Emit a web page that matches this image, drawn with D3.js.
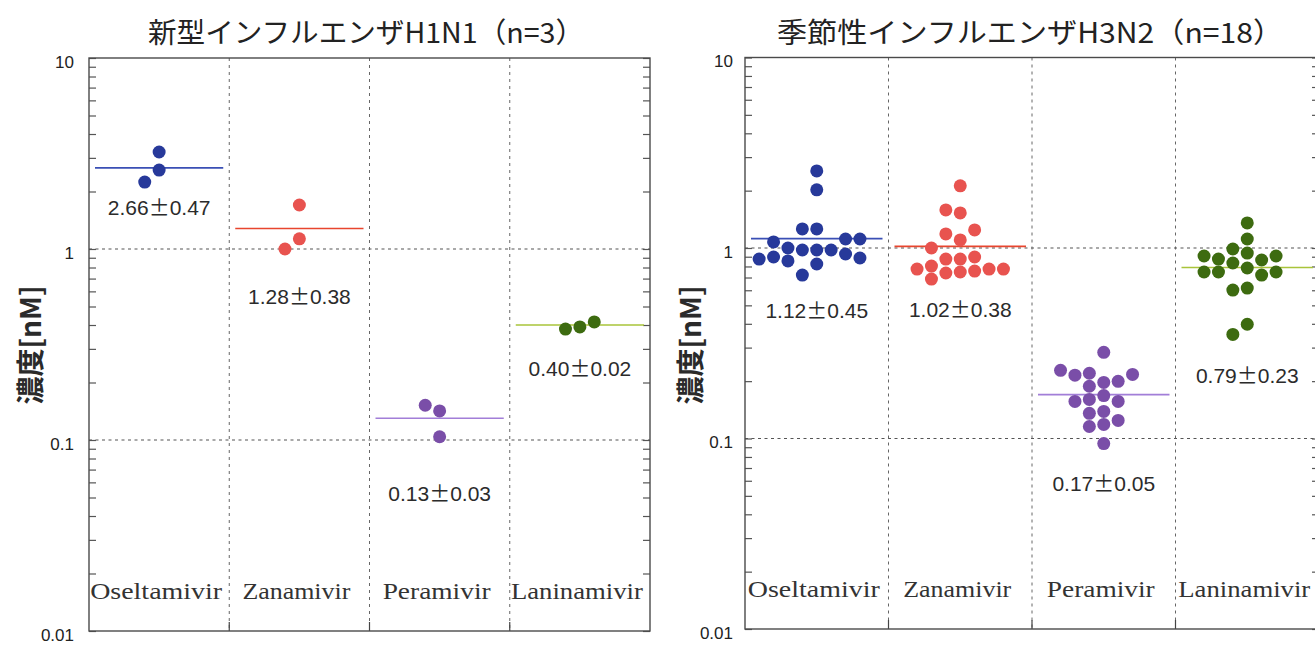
<!DOCTYPE html>
<html>
<head>
<meta charset="utf-8">
<script src="https://cdn.jsdelivr.net/npm/d3@7"></script>
<style>
  body { margin: 0; background: #ffffff; }
  svg { display: block; }
</style>
</head>
<body>
<svg id="chart" width="1315" height="646"></svg>
<script>
// ---- data -------------------------------------------------------------
const drugs = ["Oseltamivir", "Zanamivir", "Peramivir", "Laninamivir"];
const yTickValues = [0.01, 0.1, 1, 10];
const yTickLabels = ["0.01", "0.1", "1", "10"];
const axisTitle = "濃度[nM]";

// 新型インフルエンザ H1N1 (n=3), IC50 in nM
const h1n1Title = "新型インフルエンザH1N1（n=3）";
const h1n1Oseltamivir = [3.22, 2.59, 2.24];
const h1n1Zanamivir = [1.70, 1.13, 1.00];
const h1n1Peramivir = [0.152, 0.142, 0.104];
const h1n1Laninamivir = [0.391, 0.381, 0.415];
const h1n1Mean = [2.66, 1.28, 0.13, 0.40];
const h1n1SD = [0.47, 0.38, 0.03, 0.02];

// 季節性インフルエンザ H3N2 (n=18), IC50 in nM
const h3n2Title = "季節性インフルエンザH3N2（n=18）";
const h3n2Oseltamivir = [2.54, 2.02, 1.26, 1.26, 1.115, 1.076, 1.115, 1.00, 0.976, 0.930,
                         0.976, 0.976, 0.897, 0.875, 0.824, 0.855, 0.886, 0.721];
const h3n2Zanamivir = [2.12, 1.585, 1.528, 1.185, 1.244, 1.102, 1.00, 0.897, 0.875, 0.875,
                       0.804, 0.775, 0.748, 0.739, 0.757, 0.775, 0.775, 0.687];
const h3n2Peramivir = [0.2835, 0.228, 0.217, 0.215, 0.220, 0.1995, 0.197, 0.188, 0.168, 0.1566,
                       0.1566, 0.1604, 0.1387, 0.1355, 0.1156, 0.1185, 0.1244, 0.0941];
const h3n2Laninamivir = [1.354, 1.115, 0.988, 0.908, 0.908, 0.941, 0.875, 0.865, 0.834, 0.785,
                         0.748, 0.748, 0.748, 0.721, 0.601, 0.616, 0.398, 0.352];
const h3n2Mean = [1.12, 1.02, 0.17, 0.79];
const h3n2SD = [0.45, 0.38, 0.05, 0.23];

// ---- layout & style ---------------------------------------------------
const dotColors  = ["#27399a", "#e8534f", "#7a4ea8", "#3d6b10"];
const lineColors = ["#3a4fb5", "#e8452e", "#a27ed8", "#a9c43a"];
const dotRadius = 6.5;
const laneStep = 14.4;
const dodgeGap = 12.5;

const panels = [
  {
    title: h1n1Title, titleX: 366, titleLen: 436,
    x0: 89, x1: 650, yTop: 58, yBottom: 631,
    labelX: 74, axisTitleX: 41,
    series: [h1n1Oseltamivir, h1n1Zanamivir, h1n1Peramivir, h1n1Laninamivir],
    mean: h1n1Mean, sd: h1n1SD,
    statDy: [47, 75, 83, 51]
  },
  {
    title: h3n2Title, titleX: 1030, titleLen: 506,
    x0: 745, x1: 1319, yTop: 57.5, yBottom: 629,
    labelX: 733, axisTitleX: 701,
    series: [h3n2Oseltamivir, h3n2Zanamivir, h3n2Peramivir, h3n2Laninamivir],
    mean: h3n2Mean, sd: h3n2SD,
    statDy: [79, 71, 96, 115]
  }
];

const svg = d3.select("#chart");

// Greedy dot-plot dodge: points nearest the median are placed first, each
// one goes to the innermost lane where it does not sit on an earlier point.
function dodgeLanes(values, y, gap) {
  const ys = values.map(v => y(v));
  const med = d3.median(ys);
  const order = d3.range(values.length)
    .sort((a, b) => Math.abs(ys[a] - med) - Math.abs(ys[b] - med) || a - b);
  const occupied = new Map();
  const lanes = new Array(values.length);
  for (const i of order) {
    for (let k = 0; ; k++) {
      const lane = k === 0 ? 0 : (k % 2 ? -(k + 1) / 2 : k / 2);
      const list = occupied.get(lane) || [];
      if (list.every(py => Math.abs(py - ys[i]) >= gap)) {
        list.push(ys[i]);
        occupied.set(lane, list);
        lanes[i] = lane;
        break;
      }
    }
  }
  return lanes;
}

panels.forEach(p => {
  const g = svg.append("g");
  const y = d3.scaleLog().domain([0.01, 10]).range([p.yBottom, p.yTop]);
  const x = d3.scaleBand().domain(drugs).range([p.x0, p.x1]).paddingInner(0).paddingOuter(0);
  const bw = x.bandwidth();
  const lane = d3.scaleLinear().domain([0, 1]).range([0, laneStep]);

  // horizontal dotted grid at each inner decade
  g.append("g").selectAll("line")
    .data(yTickValues.filter(v => v > 0.01 && v < 10))
    .join("line")
    .attr("x1", p.x0).attr("x2", p.x1)
    .attr("y1", d => y(d)).attr("y2", d => y(d))
    .attr("stroke", "#555").attr("stroke-width", 1.1)
    .attr("stroke-dasharray", "3,3.5");

  // vertical dotted separators between drugs
  g.append("g").selectAll("line")
    .data(drugs.slice(1))
    .join("line")
    .attr("x1", d => x(d)).attr("x2", d => x(d))
    .attr("y1", p.yTop).attr("y2", p.yBottom)
    .attr("stroke", "#666").attr("stroke-width", 1)
    .attr("stroke-dasharray", "3,4");

  // short solid ticks at the foot of each separator
  g.append("g").selectAll("line")
    .data(drugs.slice(1))
    .join("line")
    .attr("x1", d => x(d)).attr("x2", d => x(d))
    .attr("y1", p.yBottom - 9).attr("y2", p.yBottom)
    .attr("stroke", "#444").attr("stroke-width", 1.2);

  // log ticks drawn inward on both vertical edges
  const tickVals = y.ticks();
  const leftTicks = g.append("g")
    .attr("transform", `translate(${p.x0},0)`)
    .call(d3.axisRight(y).tickValues(tickVals).tickSize(7).tickSizeOuter(0).tickFormat(""));
  const rightTicks = g.append("g")
    .attr("transform", `translate(${p.x1},0)`)
    .call(d3.axisLeft(y).tickValues(tickVals).tickSize(7).tickSizeOuter(0).tickFormat(""));
  [leftTicks, rightTicks].forEach(a => {
    a.select(".domain").remove();
    a.selectAll(".tick line").attr("stroke", "#555").attr("stroke-width", 1.2);
  });

  // decade labels
  const labelAxis = g.append("g")
    .attr("transform", `translate(${p.labelX},0)`)
    .attr("font-size", 17)
    .call(d3.axisLeft(y).tickValues(yTickValues).tickSize(0).tickPadding(0)
      .tickFormat((d, i) => yTickLabels[i]));
  labelAxis.select(".domain").remove();
  labelAxis.attr("font-size", 17).attr("font-family", "'Liberation Sans', Arial, sans-serif");
  labelAxis.selectAll(".tick text")
    .style("font-size", "17px")
    .style("font-family", "'Liberation Sans', Arial, sans-serif")
    .attr("fill", "#222")
    .attr("dy", "0.55em");

  // frame
  g.append("rect")
    .attr("x", p.x0).attr("y", p.yTop)
    .attr("width", p.x1 - p.x0).attr("height", p.yBottom - p.yTop)
    .attr("fill", "none").attr("stroke", "#4a4a4a").attr("stroke-width", 1.4);

  // drug names inside the plot, near the bottom
  g.append("g").selectAll("text")
    .data(drugs)
    .join("text")
    .attr("x", d => x(d) + bw / 2 - 3)
    .attr("y", p.yBottom - 32)
    .attr("text-anchor", "middle")
    .attr("font-family", "'Liberation Serif', 'DejaVu Serif', serif")
    .attr("font-size", 23)
    .attr("fill", "#333")
    .attr("textLength", d => d.length * 12)
    .attr("lengthAdjust", "spacingAndGlyphs")
    .text(d => d);

  // mean lines
  g.append("g").selectAll("line")
    .data(p.mean)
    .join("line")
    .attr("x1", (d, i) => x(drugs[i]) + 6)
    .attr("x2", (d, i) => x(drugs[i]) + bw - 6)
    .attr("y1", d => y(d)).attr("y2", d => y(d))
    .attr("stroke", (d, i) => lineColors[i])
    .attr("stroke-width", 1.6);

  // individual points
  p.series.forEach((vals, i) => {
    const lanes = dodgeLanes(vals, y, dodgeGap);
    g.append("g").selectAll("circle")
      .data(vals)
      .join("circle")
      .attr("cx", (d, j) => x(drugs[i]) + bw / 2 + lane(lanes[j]))
      .attr("cy", d => y(d))
      .attr("r", dotRadius)
      .attr("fill", dotColors[i]);
  });

  // mean ± SD labels
  const stats = g.append("g").selectAll("text")
    .data(p.mean)
    .join("text")
    .attr("x", (d, i) => x(drugs[i]) + bw / 2)
    .attr("y", (d, i) => y(d) + p.statDy[i])
    .attr("text-anchor", "middle")
    .attr("font-family", "'Liberation Sans', Arial, sans-serif")
    .attr("font-size", 21)
    .attr("fill", "#2b2b2b");
  stats.append("tspan").text(d => d.toFixed(2));
  stats.append("tspan")
    .attr("font-family", "'Noto Sans CJK JP', sans-serif")
    .text("±");
  stats.append("tspan").text((d, i) => p.sd[i].toFixed(2));

  // panel title
  g.append("text")
    .attr("x", p.titleX).attr("y", 43)
    .attr("text-anchor", "middle")
    .attr("font-family", "'Noto Sans CJK JP', sans-serif")
    .attr("font-size", 28)
    .attr("fill", "#222")
    .attr("textLength", p.titleLen)
    .attr("lengthAdjust", "spacingAndGlyphs")
    .text(p.title);

  // vertical axis title
  g.append("text")
    .attr("transform", `translate(${p.axisTitleX},345) rotate(-90)`)
    .attr("text-anchor", "middle")
    .attr("font-family", "'Noto Sans CJK JP', sans-serif")
    .attr("font-size", 28)
    .attr("font-weight", 600)
    .attr("fill", "#2a2a2a")
    .text(axisTitle);
});
</script>
</body>
</html>
